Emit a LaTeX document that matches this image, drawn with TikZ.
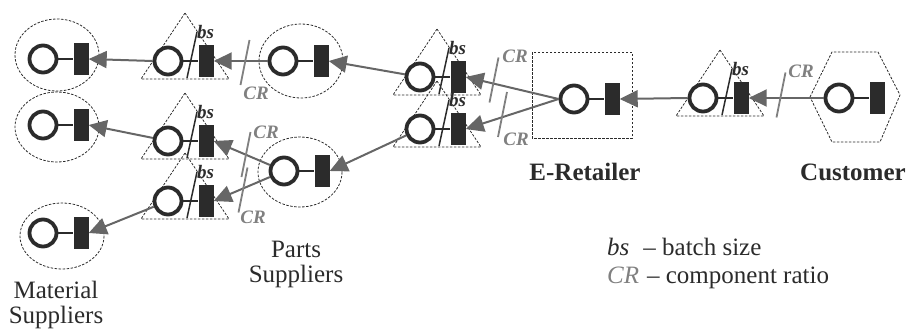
\documentclass[tikz,border=0pt]{standalone}
\usepackage{fontspec}
\setmainfont{Liberation Serif}
\usetikzlibrary{arrows.meta,shapes.geometric}

\definecolor{ink}{HTML}{2B2B2B}
\definecolor{flow}{HTML}{666666}
\definecolor{crgray}{HTML}{808080}

\tikzset{
  circ/.style={circle, draw=ink, line width=3.8pt, minimum size=27pt, inner sep=0pt},
  blk/.style={rectangle, fill=ink, minimum width=15pt, minimum height=32pt, inner sep=0pt},
  tie/.style={draw=ink, line width=2pt},
  grp/.style={draw=ink, line width=0.8pt, dash pattern=on 2.5pt off 1.5pt},
  flowarrow/.style={draw=flow, line width=2pt, -{Triangle[length=18pt,width=17pt,fill=flow]}},
  crmark/.style={draw=crgray, line width=1.8pt},
  bsmark/.style={draw=ink, line width=1.5pt},
  crlabel/.style={text=crgray, font=\fontsize{19}{19}\selectfont\bfseries\itshape, inner sep=0pt},
  bslabel/.style={text=ink, font=\fontsize{19}{19}\selectfont\bfseries\itshape, inner sep=0pt, anchor=base west},
  tierlabel/.style={text=ink, font=\fontsize{25}{25}\selectfont, align=center, inner sep=0pt},
  legend/.style={text=ink, font=\fontsize{25}{25}\selectfont, inner sep=0pt, anchor=base west},
}

% one stage: place (circle) tied to a transition (black bar)
\newcommand\mkunit[3]{%
  \node[circ] (#1c) at (#2,#3) {};
  \node[blk] (#1r) at (#2+38,#3) {};
  \draw[tie] (#1c.east) -- (#1r.west);}
% dashed triangle around a batching stage
\newcommand\mktri[3]{%
  \draw[grp] (#2+17,#3-48) -- (#2+61,#3+18) -- (#2-27,#3+18) -- cycle;}
% batch-size mark on a stage
\newcommand\mkbs[3]{%
  \draw[bsmark] (#2+29,#3-29) -- (#2+19,#3+17);
  \node[bslabel] (#1bs) at (#2+29,#3-23) {bs};}
% component-ratio mark across a flow
\newcommand\mkcr[5]{%
  \coordinate (#1) at (#2,#3);
  \draw[crmark] (#1) ++(4.5,-22.5) -- ++(-9,45);
  \node[crlabel] (#1lab) at (#4,#5) {CR};}

\begin{document}
\begin{tikzpicture}[x=1pt,y=-1pt]
\useasboundingbox (0,0) rectangle (911,332);

% dashed outlines of the tiers
\draw[grp] (57,55) ellipse [x radius=42, y radius=36];
\draw[grp] (57,127) ellipse [x radius=42, y radius=35];
\draw[grp] (62,236) ellipse [x radius=42, y radius=33];
\draw[grp] (301,61) ellipse [x radius=42, y radius=37];
\draw[grp] (300,172) ellipse [x radius=42, y radius=35];
\draw[grp] (532,52) rectangle (632,138);
\draw[grp] (810,97) -- (832,52) -- (878,52) -- (900,95) -- (880,142) -- (832,142) -- cycle;
\mktri{T1}{168}{61}
\mktri{T2}{168}{141}
\mktri{T3}{168}{201}
\mktri{U1}{420}{77}
\mktri{U2}{420}{129}
\mktri{K}{703}{98}

% stages
\mkunit{M1}{43}{59}
\mkunit{M2}{43}{125}
\mkunit{M3}{43}{233}
\mkunit{T1}{168}{61}
\mkunit{T2}{168}{141}
\mkunit{T3}{168}{201}
\mkunit{P1}{283}{61}
\mkunit{P2}{284}{171}
\mkunit{U1}{420}{77}
\mkunit{U2}{420}{129}
\mkunit{E}{574}{99}
\mkunit{K}{703}{98}
\mkunit{C}{839}{98}

% material flow (orders travel upstream)
\draw[flowarrow] (Cc.west) -- (Kr.east);
\draw[flowarrow] (Kc.west) -- (Er.east);
\draw[flowarrow] (Ec.west) -- (U1r.east);
\draw[flowarrow] (Ec.west) -- (U2r.east);
\draw[flowarrow] (U1c) -- (P1r.east);
\draw[flowarrow] (U2c) -- (P2r.east);
\draw[flowarrow] (P1c.west) -- (T1r.east);
\draw[flowarrow] (P2c) -- (T2r.east);
\draw[flowarrow] (P2c) -- (T3r.east);
\draw[flowarrow] (T1c.west) -- (M1r.east);
\draw[flowarrow] (T2c) -- (M2r.east);
\draw[flowarrow] (T3c) -- (M3r.east);

% batch sizes
\mkbs{T1}{168}{61}
\mkbs{T2}{168}{141}
\mkbs{T3}{168}{201}
\mkbs{U1}{420}{77}
\mkbs{U2}{420}{129}
\mkbs{K}{703}{98}

% component ratios
\mkcr{cra}{245}{62.5}{256}{93}
\mkcr{crb}{246}{154.5}{266}{132}
\mkcr{crc}{243}{190}{253}{217}
\mkcr{crd}{494}{80}{515}{56}
\mkcr{cre}{502.5}{114.5}{516}{139}
\mkcr{crf}{781}{95}{801}{71}

% tier names
\node[tierlabel, anchor=north] (matlab) at (56,281) {Material\\Suppliers};
\node[tierlabel, anchor=north] (partlab) at (296,241) {Parts\\Suppliers};
\node[tierlabel, font=\fontsize{25}{25}\selectfont\bfseries, anchor=base] (retlab) at (585,180) {E-Retailer};
\node[tierlabel, font=\fontsize{25}{25}\selectfont\bfseries, anchor=base] (custlab) at (853,180) {Customer};

% legend
\node[legend] (leg1) at (607,255) {\textit{bs}\hspace{14pt}– batch size};
\node[legend] (leg2) at (607,283) {\textcolor{crgray}{\textit{CR}}\hspace{8pt}– component ratio};
\end{tikzpicture}
\end{document}
